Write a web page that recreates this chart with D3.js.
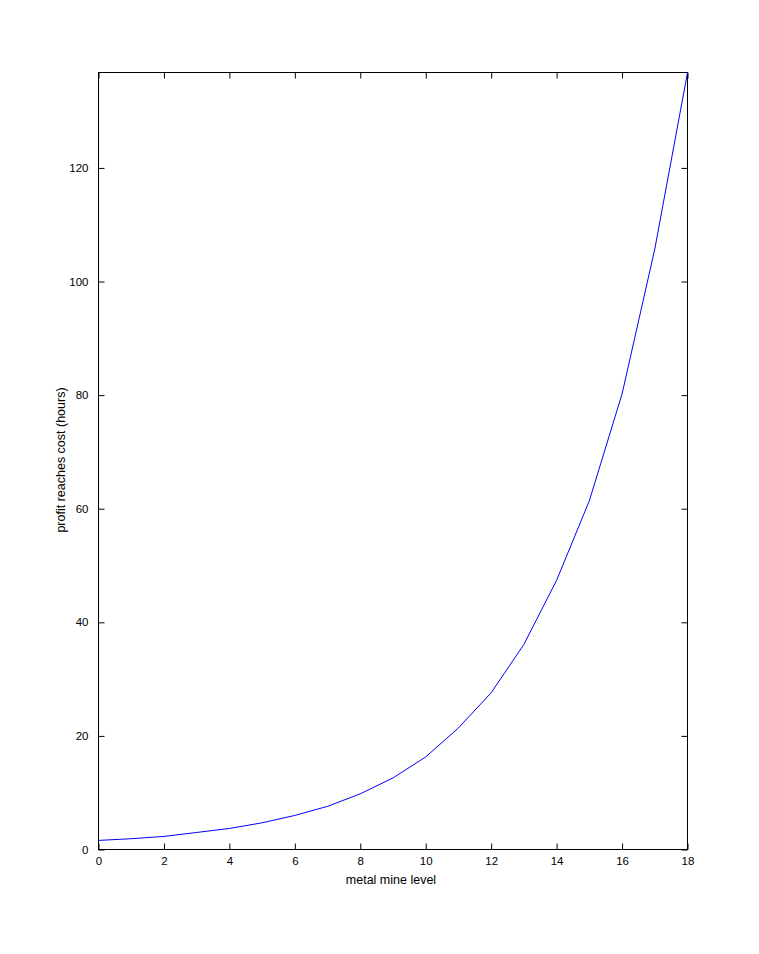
<!DOCTYPE html>
<html>
<head>
<meta charset="utf-8">
<script src="https://cdn.jsdelivr.net/npm/d3@7"></script>
<style>
  body { margin: 0; background: #fff; }
  text { font-family: "Liberation Sans", Arial, sans-serif; font-size: 11px; fill: #000; }
</style>
</head>
<body>
<div id="chart"></div>
<script>
// metal mine level vs hours until profit reaches cost
var levels = d3.range(0, 19);
var hours = [1.6, 1.9, 2.3, 3.0, 3.7, 4.7, 6.0, 7.6, 9.8, 12.6, 16.3, 21.4, 27.6, 36.1, 47.4, 61.4, 80.2, 105.7, 136.8];
var xTicks = [0, 2, 4, 6, 8, 10, 12, 14, 16, 18];
var yTicks = [0, 20, 40, 60, 80, 100, 120];

var w = 759, h = 954;
// note: "top" is a reserved window prop, so use plot* names
var plotL = 98.5, plotR = 687.5, plotT = 72.5, plotB = 849.5;

var svg = d3.select('#chart').append('svg')
    .attr('width', w)
    .attr('height', h);

var x = d3.scaleLinear().domain([0, 18]).range([plotL, plotR]);
var y = d3.scaleLinear().domain([0, d3.max(hours)]).range([plotB, plotT]);

// frame
svg.append('rect')
    .attr('x', plotL).attr('y', plotT)
    .attr('width', plotR - plotL).attr('height', plotB - plotT)
    .attr('fill', 'none').attr('stroke', '#000').attr('stroke-width', 1);

var tickLen = 6;

// ticks on all four sides, pointing inward
function xAxis(g, yPos, dir, labels) {
    var ax = (dir > 0 ? d3.axisBottom(x) : d3.axisTop(x))
        .tickValues(xTicks)
        .tickSizeInner(-tickLen)
        .tickSizeOuter(0)
        .tickPadding(tickLen + 1);
    if (!labels) ax.tickFormat('');
    g.attr('transform', 'translate(0,' + yPos + ')').call(ax);
    g.select('.domain').remove();
    g.selectAll('line').attr('stroke', '#000');
    g.selectAll('text').style('font-size', '11.5px').attr('fill', '#000');
}

function yAxis(g, xPos, dir, labels) {
    var ax = (dir < 0 ? d3.axisLeft(y) : d3.axisRight(y))
        .tickValues(yTicks)
        .tickSizeInner(-tickLen)
        .tickSizeOuter(0)
        .tickPadding(tickLen + 4);
    if (!labels) ax.tickFormat('');
    g.attr('transform', 'translate(' + xPos + ',0)').call(ax);
    g.select('.domain').remove();
    g.selectAll('line').attr('stroke', '#000');
    g.selectAll('text').style('font-size', '11.5px').attr('fill', '#000');
}

svg.append('g').call(xAxis, plotB, 1, true);
svg.append('g').call(xAxis, plotT, -1, false);
svg.append('g').call(yAxis, plotL, -1, true);
svg.append('g').call(yAxis, plotR, 1, false);

// curve
var line = d3.line()
    .x(function (d, i) { return x(levels[i]); })
    .y(function (d) { return y(d); });

svg.append('path')
    .datum(hours)
    .attr('d', line)
    .attr('fill', 'none')
    .attr('stroke', '#0000ff')
    .attr('stroke-width', 1);

// axis titles
svg.append('text')
    .attr('x', 391)
    .attr('y', 884)
    .attr('text-anchor', 'middle')
    .style('font-size', '12.5px')
    .text('metal mine level');

svg.append('text')
    .attr('transform', 'translate(65,460) rotate(-90)')
    .attr('text-anchor', 'middle')
    .style('font-size', '12.5px')
    .text('profit reaches cost (hours)');
</script>
</body>
</html>
